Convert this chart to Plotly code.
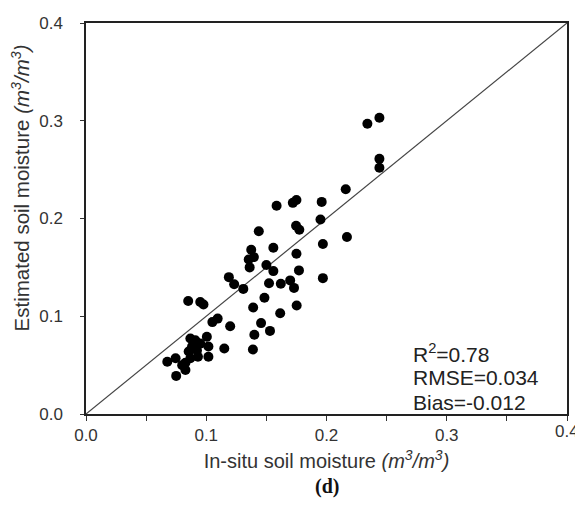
import plotly.graph_objects as go

# in-situ vs estimated soil moisture (m3/m3)
insitu = [0.234, 0.244, 0.244, 0.244, 0.216, 0.217, 0.1585, 0.172, 0.175, 0.196,
          0.195, 0.1437, 0.1747, 0.1774, 0.197, 0.1374, 0.1558, 0.175, 0.1353, 0.1396,
          0.1361, 0.150, 0.1558, 0.1771, 0.197, 0.1308, 0.1522, 0.162, 0.1698, 0.173,
          0.1484, 0.139, 0.1752, 0.1615, 0.1456, 0.153, 0.140, 0.1388, 0.085, 0.095,
          0.0977, 0.1095, 0.1051, 0.1199, 0.115, 0.0868, 0.0909, 0.1005, 0.095, 0.1018,
          0.0882, 0.0923, 0.0854, 0.1018, 0.0931, 0.0868, 0.0745, 0.0676, 0.0827, 0.0827,
          0.075, 0.080, 0.1188, 0.1232]
estimated = [0.297, 0.303, 0.261, 0.252, 0.230, 0.181, 0.213, 0.216, 0.219, 0.217,
             0.199, 0.187, 0.1925, 0.1885, 0.174, 0.168, 0.170, 0.164, 0.158, 0.1605,
             0.150, 0.1524, 0.1462, 0.1469, 0.139, 0.128, 0.1337, 0.1333, 0.1367, 0.129,
             0.119, 0.109, 0.111, 0.103, 0.093, 0.085, 0.081, 0.066, 0.1156, 0.1146,
             0.112, 0.0976, 0.094, 0.0898, 0.067, 0.0772, 0.0755, 0.079, 0.072, 0.069,
             0.069, 0.065, 0.064, 0.0585, 0.0585, 0.057, 0.057, 0.0534, 0.0524, 0.045,
             0.039, 0.050, 0.140, 0.1327]

one_to_one = [0, 0.4]
tick_vals = [0.0, 0.1, 0.2, 0.3, 0.4]
tick_text = ["0.0", "0.1", "0.2", "0.3", "0.4"]
stats = ["R<sup>2</sup>=0.78", "RMSE=0.034", "Bias=-0.012"]

font = "Liberation Sans, Arial, sans-serif"

fig = go.Figure()
fig.add_trace(go.Scatter(
    x=one_to_one, y=one_to_one, mode="lines",
    line=dict(color="#444444", width=1.2),
    hoverinfo="skip",
))
fig.add_trace(go.Scatter(
    x=insitu, y=estimated, mode="markers",
    marker=dict(color="black", size=10),
))

axis_style = dict(
    range=[0, 0.4],
    tickvals=tick_vals,
    ticks="outside", tickwidth=1.3, tickcolor="#333",
    showline=True, linecolor="#222", linewidth=1.5, mirror=True,
    showgrid=False, zeroline=False,
    tickfont=dict(family=font, size=17, color="#333"),
)

# the last x label runs off the page edge, plotly drops it, so draw it below
fig.update_xaxes(
    title=dict(text="In-situ soil moisture <i>(m<sup>3</sup>/m<sup>3</sup>)</i>",
               font=dict(family=font, size=20, color="#333"), standoff=10),
    ticktext=tick_text[:-1] + [""],
    ticklen=5,
    minor=dict(dtick=0.05, ticks="outside", ticklen=5, tickwidth=1.3, tickcolor="#333"),
    **axis_style,
)
fig.add_annotation(
    x=tick_vals[-1], y=-0.046, xref="x", yref="paper",
    text=tick_text[-1], showarrow=False, xanchor="center", yanchor="middle",
    font=dict(family=font, size=17, color="#333"),
)
fig.update_yaxes(ticktext=tick_text, ticklen=4, ticklabelstandoff=14, **axis_style)

# y title sits above the axis centre in the reference, so place it by hand
fig.add_annotation(
    x=-0.135, y=0.577, xref="paper", yref="paper",
    text="Estimated soil moisture <i>(m<sup>3</sup>/m<sup>3</sup>)</i>",
    textangle=-90, showarrow=False, xanchor="center", yanchor="middle",
    font=dict(family=font, size=20.5, color="#333"),
)

for i, s in enumerate(stats):
    fig.add_annotation(
        x=0.27, y=0.062 - i * 0.025, xref="x", yref="y",
        text=s, showarrow=False, xanchor="left", yanchor="middle",
        font=dict(family=font, size=21, color="#222"),
    )

fig.add_annotation(
    x=0.5, y=-0.186, xref="paper", yref="paper",
    text="<b>(d)</b>", showarrow=False, yanchor="middle",
    font=dict(family="Liberation Serif, Times New Roman, serif", size=20, color="#111"),
)

# page body adds 8px around the figure, so size it to fit inside the window
fig.update_layout(
    width=567, height=490,
    margin=dict(l=78, r=6, t=14, b=84),
    plot_bgcolor="white", paper_bgcolor="white",
    showlegend=False,
)

fig.write_html("out.html", config={"displayModeBar": False})
